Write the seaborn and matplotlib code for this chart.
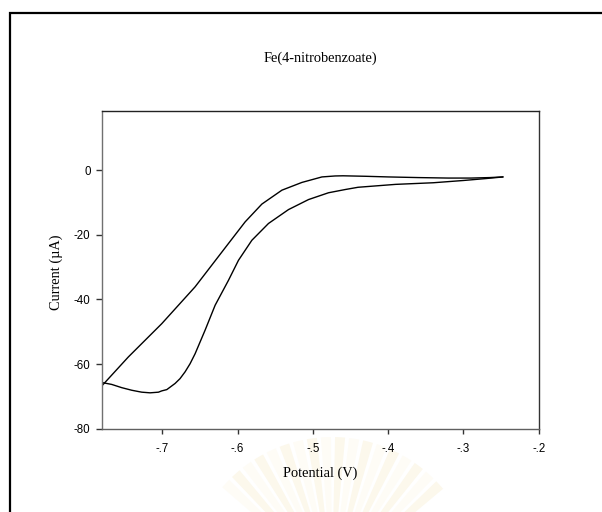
import pandas as pd
import seaborn as sns
import matplotlib
matplotlib.use("Agg")
import matplotlib.pyplot as plt
from matplotlib.patches import Rectangle, Wedge
from matplotlib.transforms import IdentityTransform

# Cyclic voltammogram of Fe(4-nitrobenzoate)
# Cathodic sweep: -0.25 V -> -0.78 V
fwd_potential = [-0.2474, -0.27, -0.30, -0.34, -0.39, -0.44, -0.4571, -0.4793, -0.5058,
                 -0.5324, -0.5590, -0.5811, -0.5989, -0.6122, -0.6299, -0.6432,
                 -0.6565, -0.6632, -0.6698, -0.6765, -0.6831, -0.6941, -0.7008,
                 -0.7052, -0.7163, -0.7273, -0.7319, -0.7407, -0.7540, -0.7673, -0.7806]
fwd_current = [-2.1, -2.6, -3.2, -3.9, -4.4, -5.3, -6.0, -7.0, -9.1,
               -12.2, -16.5, -21.7, -27.9, -34.1, -41.8, -49.5,
               -56.8, -59.9, -62.4, -64.5, -66.0, -67.9, -68.3,
               -68.7, -68.9, -68.7, -68.5, -68.1, -67.3, -66.3, -65.7]

# Anodic (return) sweep: -0.78 V -> -0.25 V
rev_potential = [-0.7806, -0.7452, -0.7008, -0.6565, -0.6122, -0.5900, -0.5678,
                 -0.5412, -0.5146, -0.4880, -0.4704, -0.46, -0.43, -0.40, -0.36,
                 -0.32, -0.29, -0.265, -0.2474]
rev_current = [-66.8, -57.8, -47.5, -36.1, -22.7, -16.0, -10.5,
               -6.2, -3.8, -2.1, -1.8, -1.75, -1.9, -2.1, -2.3,
               -2.45, -2.45, -2.3, -2.1]

x_ticks = [-0.7, -0.6, -0.5, -0.4, -0.3, -0.2]
x_tick_labels = ["-.7", "-.6", "-.5", "-.4", "-.3", "-.2"]
y_ticks = [0, -20, -40, -60, -80]
y_tick_labels = ["0", "-20", "-40", "-60", "-80"]

df = pd.DataFrame({
    "potential": fwd_potential + rev_potential,
    "current": fwd_current + rev_current,
    "sweep": ["cathodic"] * len(fwd_potential) + ["anodic"] * len(rev_potential),
})

sns.set_theme(style="ticks")
serif = ["Liberation Serif", "DejaVu Serif"]
sans = ["Liberation Sans", "DejaVu Sans"]

fig = plt.figure(figsize=(6.02, 5.12), dpi=100)
fig.patch.set_facecolor("white")

# faint emblem watermark at the bottom of the page
for i in range(18):
    a0 = 40 + i * 5.6
    col = "#fcf8ec" if i % 2 == 0 else "#fefcf6"
    fig.patches.append(Wedge((332, -70), 145, a0, a0 + 4.0,
                             transform=IdentityTransform(),
                             facecolor=col, edgecolor="none", zorder=0))

ax = fig.add_axes([101.7 / 602, 1 - 428.7 / 512, (538.7 - 101.7) / 602, (428.7 - 111) / 512])
ax.set_facecolor("none")
ax.set_zorder(2)

sns.lineplot(data=df, x="potential", y="current", units="sweep", estimator=None,
             sort=False, color="black", linewidth=1.0, ax=ax, legend=False)

ax.set_xlim(-0.7806, -0.2)
ax.set_ylim(-80, 18.3)
ax.set_xticks(x_ticks)
ax.set_xticklabels(x_tick_labels, family=sans, fontsize=8.3)
ax.set_yticks(y_ticks)
ax.set_yticklabels(y_tick_labels, family=sans, fontsize=8.3)
ax.tick_params(axis="x", direction="out", length=3.5, width=1.0, pad=7, colors="#333333")
ax.tick_params(axis="y", direction="out", length=4, width=1.0, pad=4, colors="#333333")
for lab in ax.get_xticklabels() + ax.get_yticklabels():
    lab.set_color("black")
ax.set_xlabel("")
ax.set_ylabel("")
for side, col in [("left", "#707070"), ("bottom", "#606060"), ("top", "#222222"), ("right", "#333333")]:
    ax.spines[side].set_color(col)
    ax.spines[side].set_linewidth(1.0)
    ax.spines[side].set_visible(True)

fig.text(320.5 / 602, 1 - 58 / 512, "Fe(4-nitrobenzoate)", family=serif, fontsize=10.4,
         ha="center", va="center", color="black", zorder=3)
fig.text(320.5 / 602, 1 - 473 / 512, "Potential (V)", family=serif, fontsize=10.4,
         ha="center", va="center", color="black", zorder=3)
fig.text(56.7 / 602, 1 - 272 / 512, "Current (\u00b5A)", family=serif, fontsize=10.4,
         ha="center", va="center", rotation=90, color="black", zorder=3)

# page frame around the figure
fig.patches.append(Rectangle((9.5 / 602, -0.05), 1.1, 1 - 12.7 / 512 + 0.05,
                             transform=fig.transFigure, fill=False,
                             edgecolor="black", linewidth=1.6, zorder=5))

fig.savefig("out.png", dpi=100, facecolor="white")
